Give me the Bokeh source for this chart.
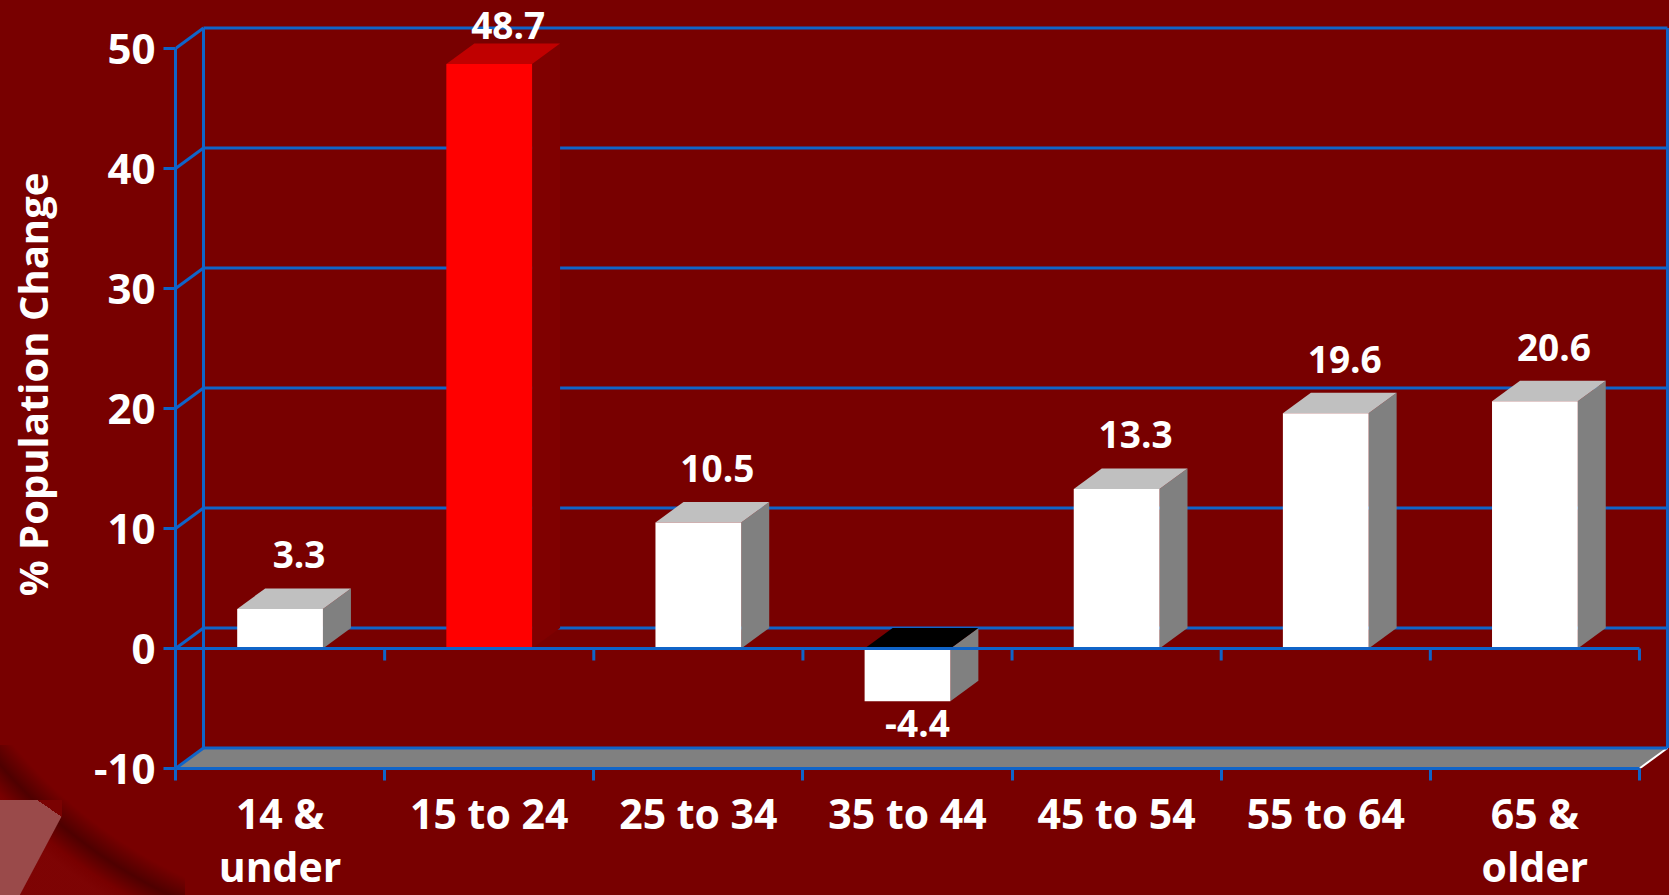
import numpy as np
from bokeh.plotting import figure
from bokeh.models import Range1d, FixedTicker, CustomJSTickFormatter, ColumnDataSource
from bokeh.core.properties import value
from bokeh.embed import file_html
from bokeh.resources import INLINE

# ---------------- data ----------------
categories = ["14 &\nunder", "15 to 24", "25 to 34", "35 to 44", "45 to 54", "55 to 64", "65 &\nolder"]
values = [3.3, 48.7, 10.5, -4.4, 13.3, 19.6, 20.6]
y_ticks = [-10, 0, 10, 20, 30, 40, 50]
highlight = "15 to 24"
y_title = "% Population Change"

# ---------------- style ----------------
BG = "#780000"
BLUE = "#1064c8"
FONT = "Open Sans"
n = len(categories)
PX_X = 1494 / 7.1436          # pixels per category unit
PX_Y = 12.0                   # pixels per value unit
DX = 28 / PX_X                # depth offset (x) in data units
DY = 20.5 / PX_Y              # depth offset (y) in data units
HW = 0.205                    # half bar width
ymin, ymax = min(y_ticks), max(y_ticks)

# decorative background of the slide (bottom-left corner), pure CSS
bg_styles = {
    "background-color": BG,
    "background-image": (
        "linear-gradient(to top right, rgba(0,0,0,0) 50%, #7a0202 50%), "
        "linear-gradient(118deg, #9a4a4a 62%, rgba(0,0,0,0) 63%), "
        "radial-gradient(circle at 400px -325px, rgba(0,0,0,0) 505px, rgba(45,0,0,0.55) 528px, "
        "rgba(0,0,0,0) 548px, rgba(150,20,20,0.18) 560px)"
    ),
    "background-size": "25px 17px, 62px 95px, 185px 150px",
    "background-position": "37px 800px, 0px 800px, 0px 745px",
    "background-repeat": "no-repeat",
}

p = figure(frame_width=1494, frame_height=768,
           x_range=Range1d(0, 7.1436), y_range=Range1d(-10, 54),
           output_backend="svg", toolbar_location=None,
           min_border_left=175, min_border_right=0, min_border_top=0, min_border_bottom=127,
           background_fill_color=BG, border_fill_color=None, outline_line_color=None,
           styles=bg_styles)
p.grid.visible = False

# ---------------- axes ----------------
xa = p.xaxis[0]
xa.ticker = FixedTicker(ticks=[i + 0.5 for i in range(n)], minor_ticks=list(range(n + 1)))
xa.formatter = CustomJSTickFormatter(args=dict(labels=categories),
                                     code="return labels[Math.floor(tick)];")
xa.bounds = (0, n)
xa.axis_line_color = BLUE
xa.axis_line_width = 3
xa.major_tick_line_color = None
xa.major_tick_out = 12
xa.major_tick_in = 0
xa.minor_tick_line_color = BLUE
xa.minor_tick_line_width = 3
xa.minor_tick_out = 12
xa.minor_tick_in = 0
xa.major_label_text_font = FONT
xa.major_label_text_font_size = "41px"
xa.major_label_text_font_style = "bold"
xa.major_label_text_color = "white"
xa.major_label_text_line_height = 0.95
xa.major_label_standoff = 4

ya = p.yaxis[0]
ya.ticker = FixedTicker(ticks=y_ticks)
ya.formatter = CustomJSTickFormatter(code="return tick.toFixed(0);")
ya.bounds = (ymin, ymax)
ya.axis_line_color = BLUE
ya.axis_line_width = 3
ya.major_tick_line_color = BLUE
ya.major_tick_line_width = 3
ya.major_tick_out = 12
ya.major_tick_in = 0
ya.minor_tick_line_color = None
ya.major_label_text_font = FONT
ya.major_label_text_font_size = "42px"
ya.major_label_text_font_style = "bold"
ya.major_label_text_color = "white"
ya.major_label_standoff = 8
ya.axis_label = y_title
ya.axis_label_text_font = FONT
ya.axis_label_text_font_size = "40px"
ya.axis_label_text_font_style = "bold"
ya.axis_label_text_color = "white"
ya.axis_label_standoff = 31

# ---------------- 3D box: floor, back wall, side wall ----------------
p.patch([0, n, n + DX, DX], [ymin, ymin, ymin + DY, ymin + DY],
        fill_color="#808080", line_color=None)
p.segment(x0=[n], y0=[ymin], x1=[n + DX], y1=[ymin + DY], line_color="white", line_width=2)

yt = np.array(y_ticks, dtype=float)
p.segment(x0=np.full(len(yt), DX), y0=yt + DY, x1=np.full(len(yt), n + DX), y1=yt + DY,
          line_color=BLUE, line_width=3)
p.segment(x0=np.zeros(len(yt)), y0=yt, x1=np.full(len(yt), DX), y1=yt + DY,
          line_color=BLUE, line_width=3)
p.segment(x0=[DX, n + DX], y0=[ymin + DY] * 2, x1=[DX, n + DX], y1=[ymax + DY] * 2,
          line_color=BLUE, line_width=3)

# ---------------- bars ----------------
vals = np.array(values, dtype=float)
centers = np.arange(n) + 0.5
is_hi = np.array([c == highlight for c in categories])
front_col = ["#ff0000" if h else "white" for h in is_hi]
top_col = ["#000000" if v < 0 else ("#c00000" if h else "#c0c0c0") for v, h in zip(vals, is_hi)]
side_col = ["#800000" if h else "#808080" for h in is_hi]

lo = np.minimum(vals, 0)
hi = np.maximum(vals, 0)
L = centers - HW
R = centers + HW

top_xs = [[l, r, r + DX, l + DX] for l, r in zip(L, R)]
top_ys = [[h, h, h + DY, h + DY] for h in hi]
side_xs = [[r, r, r + DX, r + DX] for r in R]
side_ys = [[b, t, t + DY, b + DY] for b, t in zip(lo, hi)]

p.patches(side_xs, side_ys, fill_color=side_col, line_color=None)
p.patches(top_xs, top_ys, fill_color=top_col, line_color=None)
p.quad(left=L, right=R, bottom=lo, top=hi, fill_color=front_col, line_color=None)

# front zero line with ticks
p.segment(x0=[0], y0=[0], x1=[n], y1=[0], line_color=BLUE, line_width=3)
p.segment(x0=np.arange(1, n + 1), y0=np.zeros(n), x1=np.arange(1, n + 1),
          y1=np.full(n, -12 / PX_Y), line_color=BLUE, line_width=3)

# ---------------- value labels ----------------
lab_y = np.where(vals >= 0, np.minimum(vals + 54 / PX_Y, 51.9), vals - 22 / PX_Y)
lab_x = centers + np.where(vals >= 0, 19, 10) / PX_X
src = ColumnDataSource(dict(x=lab_x, y=lab_y, t=[f"{v:.1f}" for v in values]))
p.text(x="x", y="y", text="t", source=src, text_color="white",
       text_font=value(FONT), text_font_size="37px", text_font_style="bold",
       text_align="center", text_baseline="middle")

html = file_html(p, INLINE)
html = html.replace("<head>", "<head><style>html,body{background:#780000;margin:0;}</style>", 1)
open("out.html", "w").write(html)
